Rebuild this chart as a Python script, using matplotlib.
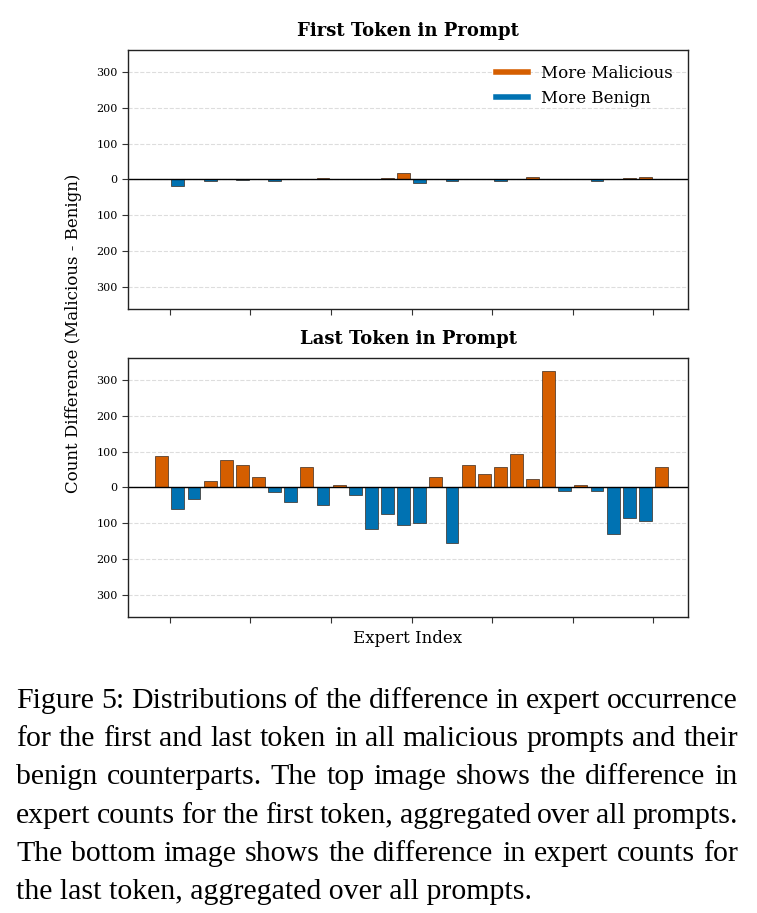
import matplotlib.pyplot as plt
import numpy as np

# Dữ liệu: chênh lệch số lần xuất hiện expert (Malicious - Benign)
experts = np.arange(32)
first_token = [0, -17, 0, -3, 0, -2, 2, -5, 0, 0, 4, 0, 0, 0, 3, 17,
               -9, 1, -4, 0, 0, -4, 0, 6, 0, 0, 2, -3, 0, 4, 6, 0]
last_token = [88, -60, -31, 17, 77, 63, 30, -12, -40, 58, -49, 6, -22, -114, -75, -104,
              -99, 30, -153, 63, 37, 57, 93, 24, 323, -9, 8, -9, -129, -86, -93, 56]
titles = ["First Token in Prompt", "Last Token in Prompt"]
yticks = [-300, -200, -100, 0, 100, 200, 300]
caption_lines = [
    "Figure 5: Distributions of the difference in expert occurrence",
    "for the first and last token in all malicious prompts and their",
    "benign counterparts. The top image shows the difference in",
    "expert counts for the first token, aggregated over all prompts.",
    "The bottom image shows the difference in expert counts for",
    "the last token, aggregated over all prompts.",
]

MAL = "#D55E00"
BEN = "#0072B2"

plt.rcParams["font.family"] = "DejaVu Serif"

W, H = 757, 913
fig = plt.figure(figsize=(W / 100, H / 100), dpi=100)
ax_top = fig.add_axes([0.169, 0.6616, 0.740, 0.2836])
ax_bot = fig.add_axes([0.169, 0.3242, 0.740, 0.2837])

for ax, vals, title in zip([ax_top, ax_bot], [first_token, last_token], titles):
    vals = np.array(vals)
    colors = [MAL if v > 0 else BEN for v in vals]
    ax.bar(experts, vals, width=0.8, color=colors, edgecolor="#3a2a20", linewidth=0.5)
    ax.axhline(0, color="black", linewidth=1.0)
    ax.set_ylim(-360, 360)
    ax.set_xlim(-2.1, 32.65)
    ax.set_yticks(yticks)
    ax.set_yticklabels([str(abs(t)) for t in yticks], fontsize=8)
    ax.set_xticks(np.arange(0.5, 32, 5))
    ax.set_xticklabels([])
    ax.grid(axis="y", linestyle="--", color="#dddddd", linewidth=0.8)
    ax.set_axisbelow(True)
    ax.set_title(title, fontsize=13, fontweight="bold", pad=10)
    for s in ax.spines.values():
        s.set_color("#222222")
        s.set_linewidth(1.0)
    ax.tick_params(length=4, width=0.8, color="#333333")

ax_top.plot([], [], color=MAL, linewidth=4, label="More Malicious")
ax_top.plot([], [], color=BEN, linewidth=4, label="More Benign")
ax_top.legend(loc="upper right", frameon=False, fontsize=12, handlelength=1.9,
              borderaxespad=0.5, labelspacing=0.45)

ax_bot.set_xlabel("Expert Index", fontsize=12, labelpad=1.5)
fig.text(0.097, 0.635, "Count Difference (Malicious - Benign)", rotation=90,
         ha="center", va="center", fontsize=12)

# Chú thích dạng căn đều hai bên (justify) như trong bài báo
renderer = fig.canvas.get_renderer()
x_left, x_right = 16, 738
for i, line in enumerate(caption_lines):
    y = 1 - (701 + 38.2 * i) / H
    words = line.split(" ")
    if i == len(caption_lines) - 1:
        fig.text(x_left / W, y, line, ha="left", va="center",
                 fontsize=21.5, family="Liberation Serif")
        continue
    texts = [fig.text(0, y, w, ha="left", va="center", fontsize=21.5,
                      family="Liberation Serif") for w in words]
    widths = [t.get_window_extent(renderer).width for t in texts]
    gap = (x_right - x_left - sum(widths)) / (len(words) - 1)
    x = x_left
    for t, w in zip(texts, widths):
        t.set_x(x / W)
        x += w + gap

fig.savefig("out.png", dpi=100)
